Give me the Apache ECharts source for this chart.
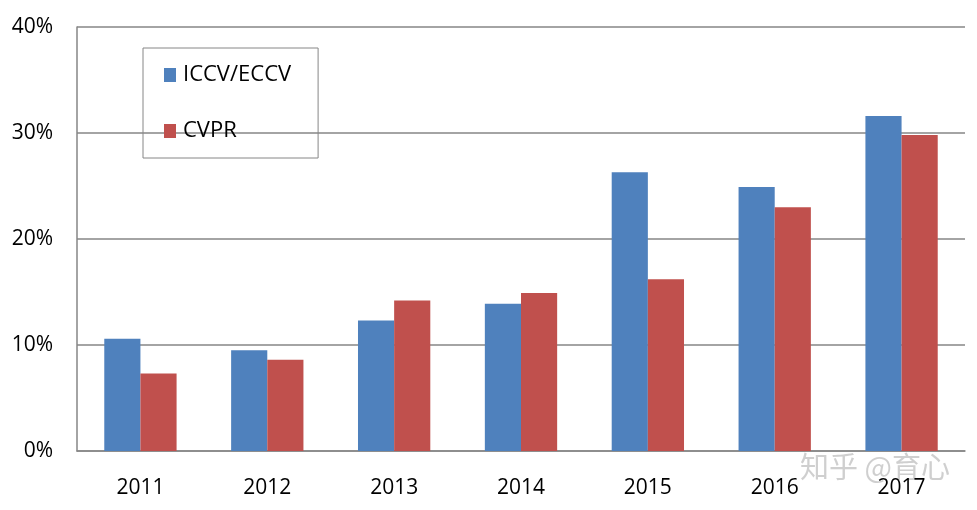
<!DOCTYPE html>
<html>
<head>
<meta charset="utf-8">
<script src="https://cdn.jsdelivr.net/npm/echarts@6/dist/echarts.min.js"></script>
<style>html,body{margin:0;padding:0;background:#fff}#c{width:977px;height:510px}</style>
</head>
<body>
<div id="c"></div>
<script>
var years = ['2011','2012','2013','2014','2015','2016','2017'];
var iccvEccv = [10.6, 9.5, 12.3, 13.9, 26.3, 24.9, 31.6];
var cvpr = [7.3, 8.6, 14.2, 14.9, 16.2, 23.0, 29.8];
var yTicks = [0, 10, 20, 30, 40];

var chart = echarts.init(document.getElementById('c'));
var font = '"Open Sans", Lato, sans-serif';
chart.setOption({
  animation: false,
  textStyle: { fontFamily: font },
  grid: { left: 77, right: 12, top: 27, bottom: 59 },
  legend: {
    orient: 'vertical',
    left: 143, top: 48,
    padding: [16, 27, 16, 21],
    itemGap: 34,
    itemWidth: 12, itemHeight: 14,
    borderColor: '#868686', borderWidth: 1,
    icon: 'rect',
    textStyle: { fontSize: 22, color: '#000', fontFamily: font, padding: [0, 0, 0, 2] },
    data: ['ICCV/ECCV', 'CVPR']
  },
  xAxis: {
    type: 'category',
    data: years,
    axisLine: { lineStyle: { color: '#868686', width: 1.5 } },
    axisTick: { show: false },
    axisLabel: { fontSize: 21, color: '#000', margin: 27 }
  },
  yAxis: {
    type: 'value',
    min: yTicks[0], max: yTicks[yTicks.length - 1], interval: 10,
    axisLine: { show: true, lineStyle: { color: '#868686', width: 1.5 } },
    axisTick: { show: false },
    splitLine: { lineStyle: { color: '#868686', width: 1.5 } },
    axisLabel: { fontSize: 21, color: '#000', margin: 24, formatter: '{value}%' }
  },
  series: [
    { name: 'ICCV/ECCV', type: 'bar', data: iccvEccv, barGap: '0%', barCategoryGap: '43%', itemStyle: { color: '#4f81bd' } },
    { name: 'CVPR', type: 'bar', data: cvpr, itemStyle: { color: '#c0504d' } }
  ],
  graphic: [{
    type: 'text', left: 800, top: 452,
    style: { text: '知乎 @育心', fontSize: 29, fill: 'rgba(195,195,195,0.8)', fontFamily: '"Noto Sans CJK SC", sans-serif' }
  }]
});
</script>
</body>
</html>
